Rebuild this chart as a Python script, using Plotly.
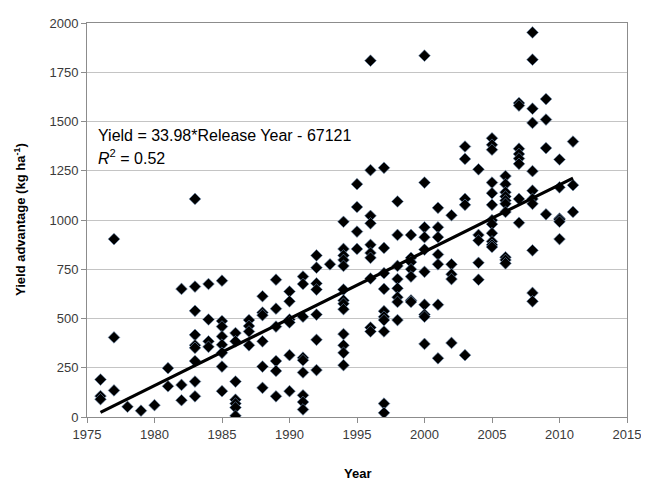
import plotly.graph_objects as go

# Yield advantage (kg ha-1) by release year
y1976 = [190, 106, 90]
y1977 = [903, 404, 135]
y1978 = [52]
y1979 = [32]
y1980 = [60]
y1981 = [248, 156]
y1982 = [650, 163, 85]
y1983 = [1107, 662, 539, 417, 364, 351, 284, 180, 105]
y1984 = [675, 495, 384, 356]
y1985 = [692, 487, 459, 409, 367, 326, 256, 131]
y1986 = [426, 384, 180, 88, 68, 48, 6]
y1987 = [492, 462, 434, 364]
y1988 = [613, 530, 517, 384, 256, 148]
y1989 = [697, 550, 459, 284, 234, 105]
y1990 = [637, 587, 495, 480, 314, 131]
y1991 = [713, 675, 509, 301, 288, 226, 110, 76, 38]
y1992 = [820, 758, 678, 647, 520, 392, 238]
y1993 = [775]
y1994 = [991, 853, 820, 797, 767, 647, 592, 575, 547, 421, 364, 326, 263]
y1995 = [1182, 1066, 941, 853]
y1996 = [1809, 1253, 1021, 983, 874, 833, 808, 703, 454, 434]
y1997 = [1265, 858, 730, 650, 537, 509, 492, 434, 68, 21]
y1998 = [1094, 924, 767, 700, 653, 608, 584, 492]
y1999 = [924, 808, 786, 750, 713, 592, 584]
y2000 = [1834, 1190, 963, 913, 850, 737, 570, 520, 509, 371]
y2001 = [1062, 963, 913, 825, 775, 570, 298]
y2002 = [1024, 775, 725, 700, 376]
y2003 = [1373, 1310, 1107, 1077, 314]
y2004 = [1257, 924, 896, 783, 697]
y2005 = [1415, 1382, 1357, 1190, 1136, 1077, 999, 979, 933, 891, 874, 863]
y2006 = [1223, 1182, 1141, 1119, 1099, 1082, 1041, 811, 797, 780]
y2007 = [1594, 1581, 1362, 1335, 1312, 1285, 1107, 986]
y2008 = [1952, 1814, 1565, 1493, 1248, 1149, 1107, 1082, 846, 630, 587]
y2009 = [1614, 1510, 1365, 1029]
y2010 = [1307, 1166, 1007, 1002, 991, 903]
y2011 = [1398, 1177, 1041]

# Trend line coefficients (from the chart's equation)
slope = 33.98
intercept = -67121
trend_years = [1976, 2011]

x_ticks = [1975, 1980, 1985, 1990, 1995, 2000, 2005, 2010, 2015]
y_ticks = [0, 250, 500, 750, 1000, 1250, 1500, 1750, 2000]

by_year = {
    1976: y1976, 1977: y1977, 1978: y1978, 1979: y1979, 1980: y1980,
    1981: y1981, 1982: y1982, 1983: y1983, 1984: y1984, 1985: y1985,
    1986: y1986, 1987: y1987, 1988: y1988, 1989: y1989, 1990: y1990,
    1991: y1991, 1992: y1992, 1993: y1993, 1994: y1994, 1995: y1995,
    1996: y1996, 1997: y1997, 1998: y1998, 1999: y1999, 2000: y2000,
    2001: y2001, 2002: y2002, 2003: y2003, 2004: y2004, 2005: y2005,
    2006: y2006, 2007: y2007, 2008: y2008, 2009: y2009, 2010: y2010,
    2011: y2011,
}
xs, ys = [], []
for yr, vals in by_year.items():
    for v in vals:
        xs.append(yr)
        ys.append(v)

fig = go.Figure()
fig.add_trace(go.Scatter(
    x=xs, y=ys, mode="markers",
    marker=dict(symbol="diamond", size=9, color="#000000",
                line=dict(color="#6f8fb5", width=0.6)),
    showlegend=False, hoverinfo="x+y",
))
fig.add_trace(go.Scatter(
    x=trend_years, y=[slope * t + intercept for t in trend_years],
    mode="lines", line=dict(color="#000000", width=3.2),
    showlegend=False,
))

grid = "#c4c4c4"
frame = "#8c8c8c"
fam = "Liberation Sans, Arial, sans-serif"
tickfont = dict(family=fam, size=13, color="#3a3a3a")

fig.update_layout(
    width=641, height=475,
    margin=dict(l=79, r=16, t=8, b=66),
    paper_bgcolor="white", plot_bgcolor="white",
    xaxis=dict(range=[1975, 2015], tickvals=x_ticks, showgrid=False,
               zeroline=False, showline=True, linecolor=frame, linewidth=1,
               mirror=True, ticks="outside", ticklen=5, tickcolor=frame,
               tickfont=tickfont),
    yaxis=dict(range=[0, 2000], tickvals=y_ticks, showgrid=True,
               gridcolor=grid, gridwidth=1, zeroline=False, showline=True,
               linecolor=frame, linewidth=1, mirror=True, ticks="outside",
               ticklen=5, tickcolor=frame, tickfont=tickfont),
    annotations=[
        dict(text="Yield = 33.98*Release Year - 67121", x=1975.65, y=1428,
             xref="x", yref="y", xanchor="left", yanchor="middle",
             showarrow=False, font=dict(family=fam, size=16, color="#000")),
        dict(text="<i>R</i><sup>2</sup> = 0.52", x=1975.65, y=1318,
             xref="x", yref="y", xanchor="left", yanchor="middle",
             showarrow=False, font=dict(family=fam, size=16, color="#000")),
        dict(text="<b>Year</b>", x=0.5, y=0, xref="paper", yref="paper",
             xanchor="center", yanchor="middle", yshift=-56, showarrow=False,
             font=dict(family=fam, size=13, color="#000")),
        dict(text="<b>Yield advantage (kg ha<sup>-1</sup>)</b>", x=0, y=0.5,
             xref="paper", yref="paper", xanchor="center", yanchor="middle",
             xshift=-67, textangle=-90, showarrow=False,
             font=dict(family=fam, size=13, color="#000")),
    ],
)

fig.write_html("out.html")
